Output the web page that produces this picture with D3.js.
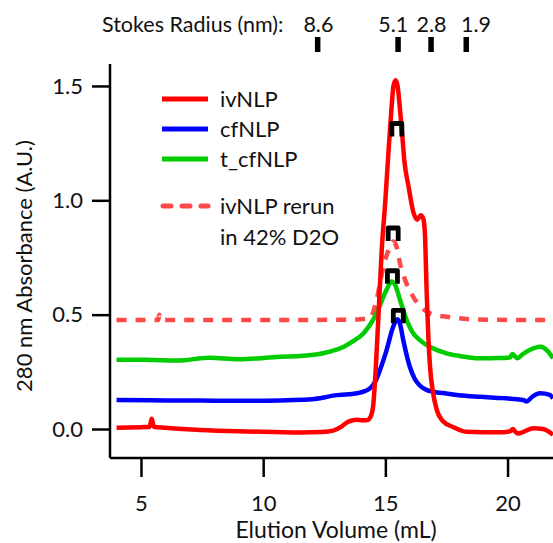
<!DOCTYPE html>
<html>
<head>
<meta charset="utf-8">
<script src="https://cdn.jsdelivr.net/npm/d3@7"></script>
<style>
  html, body { margin: 0; padding: 0; background: #fff; }
  svg { display: block; font-family: Lato, "Open Sans", sans-serif; }
</style>
</head>
<body>
<svg id="chart" width="553" height="543"></svg>
<script>
// ---- data ----
const xTicks = [5, 10, 15, 20];
const yTicks = [0.0, 0.5, 1.0, 1.5];

const ivVol = [4.0, 5.0, 5.35, 5.44, 5.52, 6.0, 7.4, 9.0, 10.5, 11.5, 12.4, 12.86, 13.2, 13.4, 13.6, 13.83, 14.05, 14.24, 14.4, 14.5, 14.6, 14.72, 14.85, 15.0, 15.12, 15.25, 15.33, 15.42, 15.5, 15.58, 15.68, 15.78, 15.95, 16.14, 16.3, 16.45, 16.55, 16.62, 16.69, 16.76, 16.83, 16.95, 17.1, 17.35, 17.78, 18.3, 19.0, 19.8, 20.1, 20.22, 20.3, 20.43, 20.7, 21.05, 21.45, 21.86];
const ivAbs = [0.005, 0.008, 0.009, 0.045, 0.01, 0.005, -0.004, -0.01, -0.013, -0.015, -0.013, -0.007, 0.01, 0.027, 0.036, 0.04, 0.038, 0.038, 0.055, 0.1, 0.25, 0.5, 0.78, 1.0, 1.2, 1.4, 1.5, 1.525, 1.5, 1.42, 1.3, 1.17, 1.06, 0.95, 0.915, 0.935, 0.92, 0.85, 0.6, 0.4, 0.27, 0.16, 0.085, 0.035, 0.008, -0.012, -0.014, -0.014, -0.01, 0.0, -0.01, -0.02, -0.01, 0.003, 0.0, -0.025];

const cfVol = [4, 6, 8, 10, 11, 12, 12.5, 12.86, 13.5, 14.0, 14.37, 14.6, 14.78, 15.05, 15.32, 15.49, 15.6, 15.73, 16.0, 16.2, 16.41, 16.7, 16.96, 17.5, 18.0, 18.87, 19.8, 20.4, 20.64, 20.78, 21.0, 21.33, 21.73, 21.86];
const cfAbs = [0.127, 0.125, 0.124, 0.124, 0.126, 0.13, 0.138, 0.146, 0.152, 0.16, 0.178, 0.21, 0.258, 0.345, 0.447, 0.48, 0.46, 0.39, 0.272, 0.22, 0.19, 0.17, 0.163, 0.155, 0.148, 0.141, 0.135, 0.13, 0.127, 0.12, 0.14, 0.156, 0.149, 0.134];

const tcfVol = [4, 5.5, 6.5, 7.8, 9, 10.7, 11.5, 12.3, 12.73, 13.3, 13.7, 14.1, 14.4, 14.64, 14.98, 15.12, 15.25, 15.4, 15.6, 15.87, 16.1, 16.41, 16.9, 17.5, 18.0, 18.87, 19.6, 20.1, 20.2, 20.4, 20.6, 20.9, 21.33, 21.67, 21.86];
const tcfAbs = [0.303, 0.302, 0.299, 0.312, 0.305, 0.316, 0.319, 0.328, 0.338, 0.36, 0.385, 0.418, 0.46, 0.506, 0.593, 0.625, 0.645, 0.63, 0.564, 0.477, 0.425, 0.389, 0.355, 0.331, 0.32, 0.309, 0.31, 0.313, 0.328, 0.309, 0.325, 0.345, 0.36, 0.338, 0.309];

const rerunVol = [4, 5.7, 5.75, 5.8, 6.5, 9, 12, 13.5, 14.0, 14.37, 14.64, 14.92, 15.19, 15.32, 15.45, 15.6, 15.85, 16.14, 16.4, 16.69, 17.0, 17.5, 18.5, 20, 21.86];
const rerunAbs = [0.477, 0.477, 0.5, 0.477, 0.477, 0.477, 0.477, 0.478, 0.48, 0.484, 0.564, 0.71, 0.797, 0.82, 0.8, 0.724, 0.64, 0.578, 0.54, 0.513, 0.5, 0.491, 0.48, 0.477, 0.477];

const peakVol = [15.47, 15.32, 15.29, 15.53];
const peakAbs = [1.314, 0.857, 0.67, 0.497];

const stokesLabels = ["8.6", "5.1", "2.8", "1.9"];
const stokesVol = [12.23, 15.52, 16.87, 18.31];
const stokesLabelVol = [12.26, 15.32, 16.89, 18.71];

const seriesNames = ["ivNLP", "cfNLP", "t_cfNLP"];
const rerunNames = ["ivNLP rerun", "in 42% D2O"];

// ---- layout ----
const svg = d3.select("#chart");
const x = d3.scaleLinear().domain([3.732, 21.86]).range([110, 553]);
const y = d3.scaleLinear().domain([-0.1268, 1.596]).range([458, 64]);

const colors = { iv: "#ff0000", cf: "#0000ff", tcf: "#00cc00", rerun: "#ff4848" };

const zip = (a, b) => a.map((v, i) => [v, b[i]]);
const line = d3.line().x(d => x(d[0])).y(d => y(d[1])).curve(d3.curveMonotoneX);

// series
const plot = svg.append("g");
plot.append("path").datum(zip(rerunVol, rerunAbs))
  .attr("d", line).attr("fill", "none").attr("stroke", colors.rerun)
  .attr("stroke-width", 4.5).attr("stroke-dasharray", "10,9");
plot.append("path").datum(zip(tcfVol, tcfAbs))
  .attr("d", line).attr("fill", "none").attr("stroke", colors.tcf)
  .attr("stroke-width", 4.5).attr("stroke-linejoin", "round");
plot.append("path").datum(zip(cfVol, cfAbs))
  .attr("d", line).attr("fill", "none").attr("stroke", colors.cf)
  .attr("stroke-width", 4.5).attr("stroke-linejoin", "round");
plot.append("path").datum(zip(ivVol, ivAbs))
  .attr("d", line).attr("fill", "none").attr("stroke", colors.iv)
  .attr("stroke-width", 4.5).attr("stroke-linejoin", "round");

// peak markers (∩ shape)
plot.selectAll("path.peak").data(zip(peakVol, peakAbs)).enter()
  .append("path").attr("class", "peak")
  .attr("transform", d => `translate(${x(d[0])},${y(d[1])})`)
  .attr("d", "M-5,8V-5H5V8")
  .attr("fill", "none").attr("stroke", "#000").attr("stroke-width", 4.8)
  .attr("stroke-linejoin", "round");

// axes
const xAxis = d3.axisBottom(x).tickValues(xTicks).tickFormat(d3.format("d"))
  .tickSizeInner(19).tickSizeOuter(0).tickPadding(18);
const yAxis = d3.axisLeft(y).tickValues(yTicks).tickFormat(d3.format(".1f"))
  .tickSizeInner(18).tickSizeOuter(0).tickPadding(9);

const gx = svg.append("g").attr("transform", "translate(0,458)").call(xAxis);
const gy = svg.append("g").attr("transform", "translate(110,0)").call(yAxis);
[gx, gy].forEach(g => {
  g.select(".domain").attr("stroke", "#000").attr("stroke-width", 2.5);
  g.selectAll(".tick line").attr("stroke", "#000").attr("stroke-width", 2.5);
  g.selectAll(".tick text").attr("fill", "#111").style("font-family", "Lato, sans-serif").style("font-size", "22px");
});
gy.select(".domain").attr("d", "M0,64V458");
gx.select(".domain").attr("d", "M110,0H553");

// axis titles
svg.append("text").attr("x", 336).attr("y", 538).attr("text-anchor", "middle")
  .style("font-size", "23px").attr("fill", "#111").text("Elution Volume (mL)");
svg.append("text").attr("transform", "translate(32,266) rotate(-90)").attr("text-anchor", "middle")
  .style("font-size", "22px").attr("fill", "#111").text("280 nm Absorbance (A.U.)");

// Stokes radius annotation
svg.append("text").attr("x", 102).attr("y", 32).style("font-size", "21.5px").attr("fill", "#111")
  .text("Stokes Radius (nm):");
svg.selectAll("rect.stokes").data(stokesVol).enter().append("rect")
  .attr("class", "stokes").attr("x", d => x(d) - 2.75).attr("y", 37).attr("width", 5.5).attr("height", 15)
  .attr("fill", "#000");
svg.selectAll("text.stokes").data(stokesLabels).enter().append("text")
  .attr("class", "stokes").attr("x", (d, i) => x(stokesLabelVol[i])).attr("y", 32)
  .attr("text-anchor", "middle").style("font-size", "21.5px").attr("fill", "#111").text(d => d);

// legend
const legendY = [99, 129, 159];
const legendColors = [colors.iv, colors.cf, colors.tcf];
const lg = svg.append("g");
seriesNames.forEach((name, i) => {
  lg.append("line").attr("x1", 162).attr("x2", 208).attr("y1", legendY[i]).attr("y2", legendY[i])
    .attr("stroke", legendColors[i]).attr("stroke-width", 5);
  lg.append("text").attr("x", 220).attr("y", legendY[i]).attr("dy", "0.36em")
    .style("font-size", "22px").attr("fill", "#111").text(name);
});
lg.append("line").attr("x1", 163).attr("x2", 208).attr("y1", 206).attr("y2", 206)
  .attr("stroke", colors.rerun).attr("stroke-width", 5).attr("stroke-dasharray", "8,11")
  .attr("stroke-linecap", "round");
rerunNames.forEach((name, i) => {
  lg.append("text").attr("x", 220).attr("y", 206 + i * 31).attr("dy", "0.36em")
    .style("font-size", "22px").attr("fill", "#111").text(name);
});
</script>
</body>
</html>
